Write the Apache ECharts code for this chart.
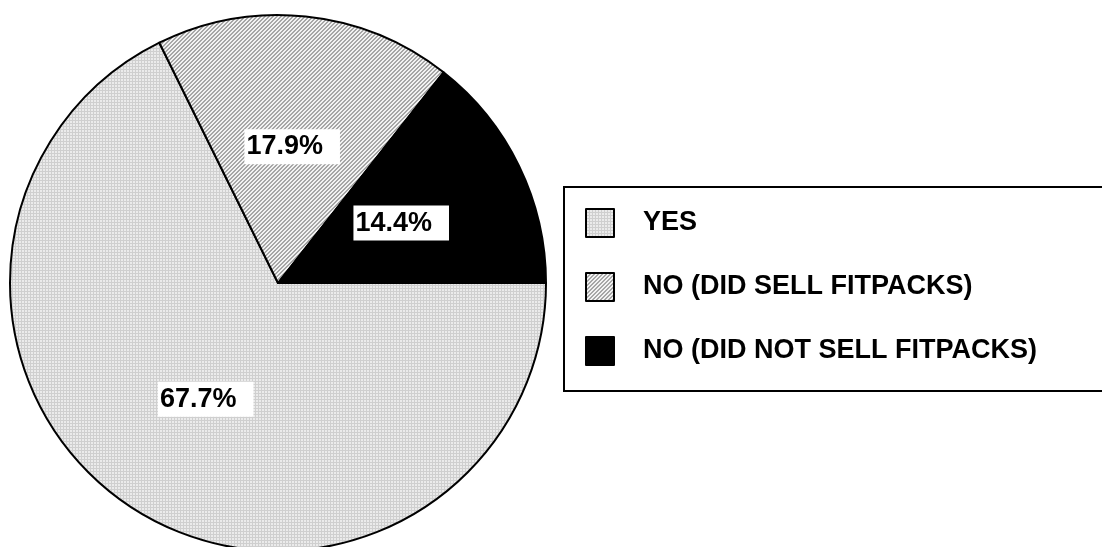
<!DOCTYPE html>
<html>
<head>
<meta charset="utf-8">
<style>
  html, body { margin: 0; padding: 0; background: #ffffff; }
  #chart { width: 1102px; height: 547px; }
</style>
<script src="https://cdn.jsdelivr.net/npm/echarts@6/dist/echarts.min.js"></script>
</head>
<body>
<div id="chart"></div>
<script>
// Survey answers and their shares (percent)
const categories = ['YES', 'NO (DID SELL FITPACKS)', 'NO (DID NOT SELL FITPACKS)'];
const shares = [67.7, 17.9, 14.4];

// Small tiled fills: fine dotted grey grid, diagonal hatch, solid black
function gridPattern() {
  const c = document.createElement('canvas');
  c.width = 3; c.height = 3;
  const g = c.getContext('2d');
  g.fillStyle = '#ebebeb'; g.fillRect(0, 0, 3, 3);
  g.fillStyle = '#cfcfcf';
  g.fillRect(0, 0, 3, 1);
  g.fillRect(0, 0, 1, 3);
  return c;
}
function hatchPattern() {
  const c = document.createElement('canvas');
  c.width = 4; c.height = 4;
  const g = c.getContext('2d');
  g.fillStyle = '#f2f2f2'; g.fillRect(0, 0, 4, 4);
  g.fillStyle = '#a6a6a6';
  for (let y = 0; y < 4; y++) {
    for (let x = 0; x < 4; x++) {
      const k = (x + y) % 4;
      if (k === 0 || k === 1) g.fillRect(x, y, 1, 1);
    }
  }
  return c;
}

const fills = [
  { image: gridPattern(), repeat: 'repeat' },
  { image: hatchPattern(), repeat: 'repeat' },
  '#000000'
];

const chart = echarts.init(document.getElementById('chart'), null, { renderer: 'canvas' });

chart.setOption({
  animation: false,
  backgroundColor: '#ffffff',
  legend: {
    orient: 'vertical',
    left: 564,
    top: 187,
    padding: [21, 90, 25, 21],
    itemWidth: 28,
    itemHeight: 28,
    itemGap: 34,
    icon: 'rect',
    borderColor: '#000000',
    borderWidth: 2,
    backgroundColor: '#ffffff',
    selectedMode: false,
    itemStyle: { borderColor: '#000000', borderWidth: 2 },
    textStyle: {
      fontFamily: '"Liberation Sans", Arial, sans-serif',
      fontWeight: 'bold',
      fontSize: 27,
      lineHeight: 28,
      color: '#000000',
      padding: [0, 0, 0, 24]
    },
    data: categories
  },
  series: [{
    type: 'pie',
    center: [278, 283],
    radius: 268,
    startAngle: 0,
    clockwise: true,
    silent: true,
    itemStyle: { borderColor: '#000000', borderWidth: 2 },
    label: {
      show: true,
      position: 'inside',
      formatter: '{c}%',
      fontFamily: '"Liberation Sans", Arial, sans-serif',
      fontWeight: 'bold',
      fontSize: 27,
      lineHeight: 27,
      color: '#000000',
      backgroundColor: '#ffffff',
      padding: [4, 17, 4, 2]
    },
    labelLine: { show: false },
    emphasis: { disabled: true },
    data: categories.map((name, i) => ({
      name: name,
      value: shares[i],
      itemStyle: { color: fills[i] }
    }))
  }]
});
</script>
</body>
</html>
